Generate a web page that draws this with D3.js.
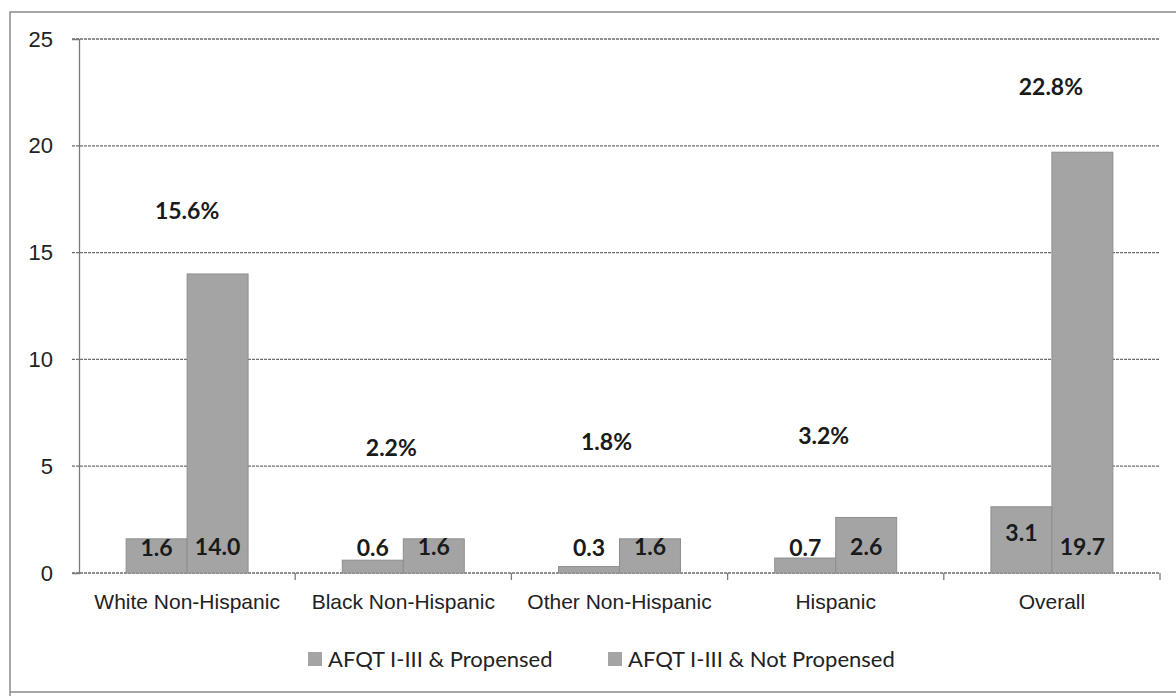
<!DOCTYPE html>
<html>
<head>
<meta charset="utf-8">
<script src="https://cdn.jsdelivr.net/npm/d3@7"></script>
<style>
  body { margin: 0; background: #fff; }
  svg { font-family: Lato, "Open Sans", sans-serif; }
</style>
</head>
<body>
<svg id="chart" width="1176" height="696"></svg>
<script>
// data
var categories = ["White Non-Hispanic", "Black Non-Hispanic", "Other Non-Hispanic", "Hispanic", "Overall"];
var seriesNames = ["AFQT I-III & Propensed", "AFQT I-III & Not Propensed"];
var propensed = [1.6, 0.6, 0.3, 0.7, 3.1];
var notPropensed = [14.0, 1.6, 1.6, 2.6, 19.7];
var totals = ["15.6%", "2.2%", "1.8%", "3.2%", "22.8%"];
var yTicks = [0, 5, 10, 15, 20, 25];

// where the hand-placed total boxes sit, in axis units (layout, not data)
var totalLabelAt = [16.95, 5.85, 6.15, 6.4, 22.75];
var totalLabelShift = [0, -12, -13, -12, -1];

var svg = d3.select("svg#chart"),
    margin = { top: 39, right: 16, bottom: 123, left: 79 },
    width = 1176 - margin.left - margin.right,
    height = 696 - margin.top - margin.bottom;

var x0 = d3.scaleBand().domain(categories).range([0, width]).paddingInner(0).paddingOuter(0);
var x1 = d3.scaleBand().domain([0, 1]).range([x0.bandwidth() * 0.218, x0.bandwidth() * 0.782]);
var y = d3.scaleLinear().domain([0, 25]).range([height, 0]);

// scanned outer frame
svg.append("path")
    .attr("d", "M10,700 L10,12 L1180,12 M10,692 L1180,692")
    .attr("fill", "none")
    .attr("stroke", "#8a8a8a")
    .attr("stroke-width", 1.5);

var g = svg.append("g")
    .attr("transform", "translate(" + margin.left + "," + margin.top + ")");

// gridlines
g.append("g")
    .selectAll("line")
    .data(yTicks)
    .enter()
    .append("line")
    .attr("x1", -7)
    .attr("x2", width)
    .attr("y1", function (d) { return y(d); })
    .attr("y2", function (d) { return y(d); })
    .attr("stroke", "#6e6e6e")
    .attr("stroke-width", 1.3)
    .attr("stroke-dasharray", "3,1");

// y axis
var yAxis = g.append("g")
    .call(d3.axisLeft(y).tickValues(yTicks).tickSize(7).tickPadding(19));
yAxis.select(".domain").attr("stroke", "#7a7a7a").attr("stroke-width", 1.3);
yAxis.selectAll(".tick line").remove();
yAxis.selectAll("text")
    .style("font-size", "22px")
    .attr("fill", "#222");

// x axis
var xAxis = g.append("g")
    .attr("transform", "translate(0," + height + ")")
    .call(d3.axisBottom(x0).tickSize(0).tickPadding(21));
xAxis.select(".domain").remove();
xAxis.selectAll("text")
    .style("font-size", "21px")
    .attr("fill", "#222");

// category separators on the x axis
g.append("g")
    .selectAll("line")
    .data(categories)
    .enter()
    .append("line")
    .attr("x1", function (d) { return x0(d) + x0.bandwidth(); })
    .attr("x2", function (d) { return x0(d) + x0.bandwidth(); })
    .attr("y1", height)
    .attr("y2", height + 7)
    .attr("stroke", "#7a7a7a")
    .attr("stroke-width", 1.3);

// bars
var groups = g.selectAll(".cat")
    .data(categories)
    .enter()
    .append("g")
    .attr("class", "cat")
    .attr("transform", function (d) { return "translate(" + x0(d) + ",0)"; });

var values = [propensed, notPropensed];

groups.selectAll("rect")
    .data(function (d, i) { return [{ s: 0, v: values[0][i] }, { s: 1, v: values[1][i] }]; })
    .enter()
    .append("rect")
    .attr("x", function (d) { return x1(d.s); })
    .attr("y", function (d) { return y(d.v); })
    .attr("width", x1.bandwidth())
    .attr("height", function (d) { return height - y(d.v); })
    .attr("fill", "#a4a4a4")
    .attr("stroke", "#8e8e8e")
    .attr("stroke-width", 1);

// value labels
groups.selectAll("text.val")
    .data(function (d, i) { return [{ s: 0, v: values[0][i] }, { s: 1, v: values[1][i] }]; })
    .enter()
    .append("text")
    .attr("class", "val")
    .attr("x", function (d) { return x1(d.s) + x1.bandwidth() / 2; })
    .attr("y", function (d) {
        if (d.s === 0) return Math.min(height - 25, y(d.v) + 26);
        return height - 26;
    })
    .attr("dy", "0.35em")
    .attr("text-anchor", "middle")
    .style("font-size", "23px")
    .style("font-weight", "bold")
    .attr("fill", "#1a1a1a")
    .text(function (d) { return d.v.toFixed(1); });

// total labels
g.selectAll("text.total")
    .data(categories)
    .enter()
    .append("text")
    .attr("class", "total")
    .attr("x", function (d, i) { return x0(d) + x0.bandwidth() / 2 + totalLabelShift[i]; })
    .attr("y", function (d, i) { return y(totalLabelAt[i]); })
    .attr("dy", "0.35em")
    .attr("text-anchor", "middle")
    .style("font-size", "23px")
    .style("font-weight", "bold")
    .attr("fill", "#1a1a1a")
    .text(function (d, i) { return totals[i]; });

// legend
var legend = svg.append("g")
    .attr("transform", "translate(308,659)");

var legendX = [0, 300];

var items = legend.selectAll("g")
    .data(seriesNames)
    .enter()
    .append("g")
    .attr("transform", function (d, i) { return "translate(" + legendX[i] + ",0)"; });

items.append("rect")
    .attr("x", 0)
    .attr("y", -7)
    .attr("width", 14)
    .attr("height", 14)
    .attr("fill", "#a4a4a4");

items.append("text")
    .attr("x", 20)
    .attr("y", 0)
    .attr("dy", "0.35em")
    .style("font-size", "22px")
    .attr("fill", "#222")
    .text(function (d) { return d; });
</script>
</body>
</html>
